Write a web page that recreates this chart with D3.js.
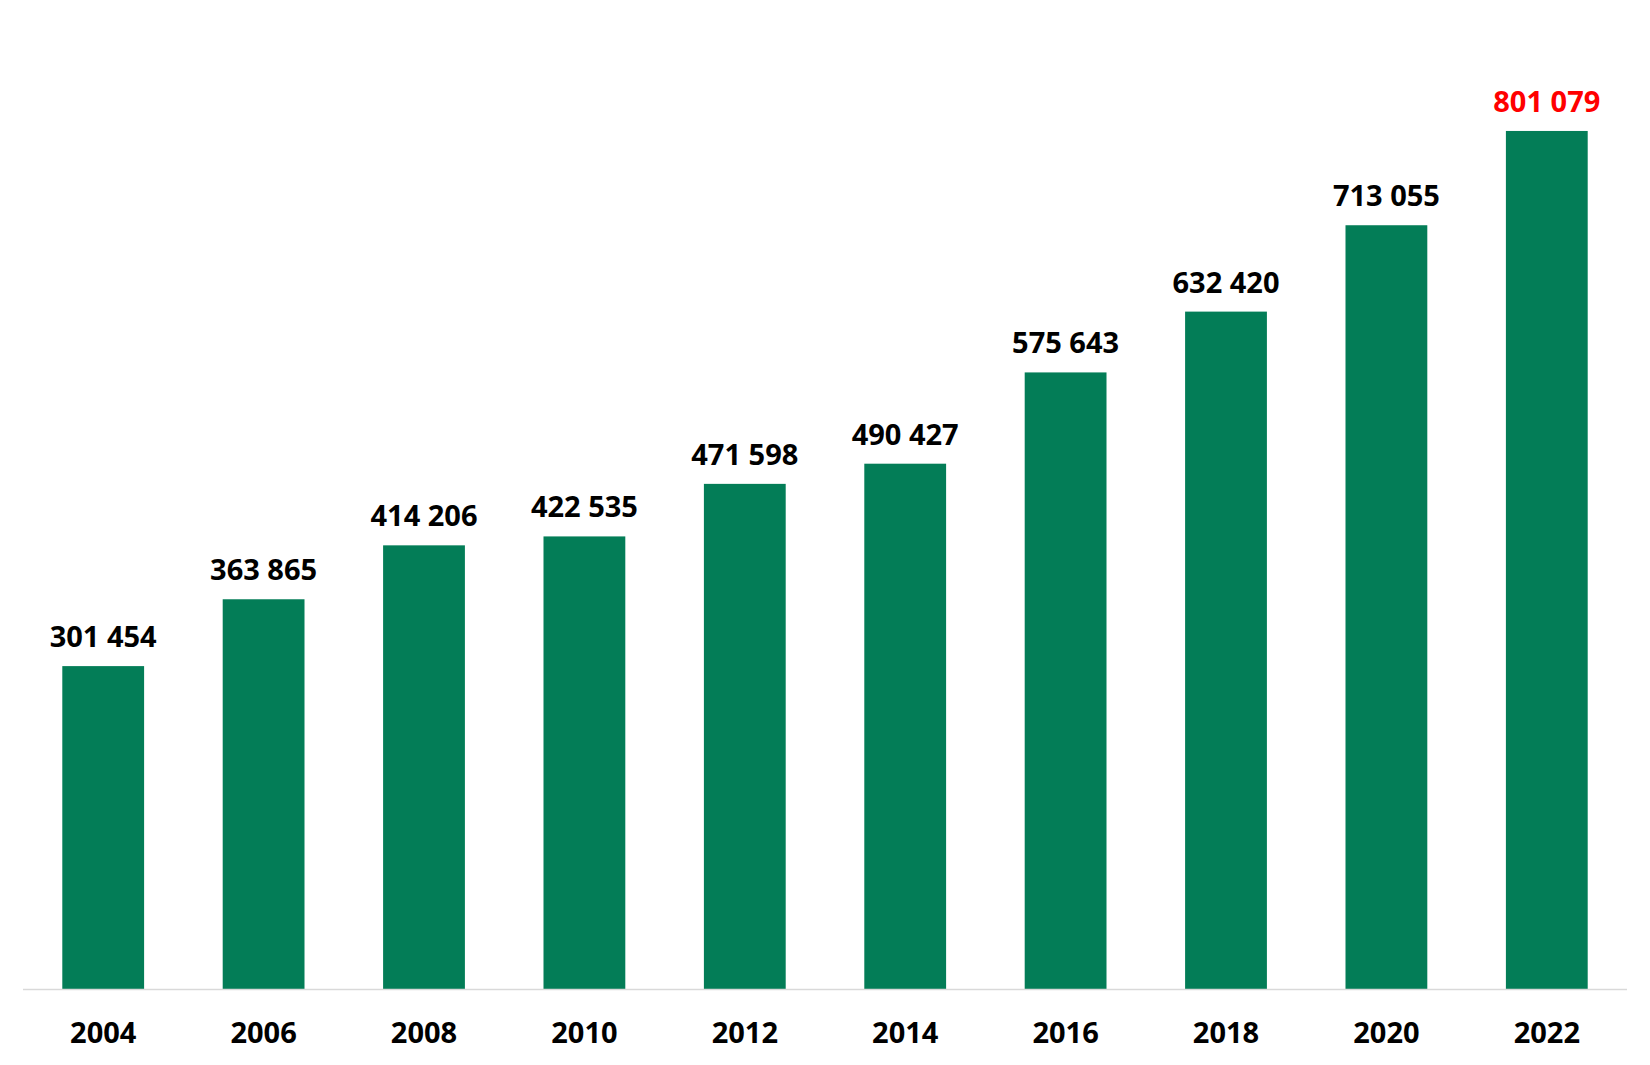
<!DOCTYPE html>
<html><head><meta charset="utf-8">
<script src="https://cdn.jsdelivr.net/npm/d3@7"></script>
<style>body{margin:0;background:#fff}svg{display:block}</style>
</head><body>
<svg id="c" width="1650" height="1065"></svg>
<script>
const years = ["2004","2006","2008","2010","2012","2014","2016","2018","2020","2022"];
const values = [301454,363865,414206,422535,471598,490427,575643,632420,713055,801079];
const labels = ["301 454","363 865","414 206","422 535","471 598","490 427","575 643","632 420","713 055","801 079"];

const svg = d3.select("#c");
const font = "'Open Sans', 'Noto Sans', sans-serif";
const x = d3.scaleBand().domain(years).range([23,1627]).paddingInner(0.49).paddingOuter(0.245);
const y = d3.scaleLinear().domain([0,900000]).range([989,25]);

svg.selectAll("rect.bar").data(values).join("rect")
  .attr("class","bar")
  .attr("x",(d,i)=>x(years[i]))
  .attr("width",x.bandwidth())
  .attr("y",d=>y(d))
  .attr("height",d=>y(0)-y(d))
  .attr("fill","#037D57");

svg.append("line").attr("x1",23).attr("x2",1627).attr("y1",989.5).attr("y2",989.5)
  .attr("stroke","#D9D9D9").attr("stroke-width",1.5);

svg.selectAll("text.val").data(values).join("text")
  .attr("class","val")
  .attr("x",(d,i)=>x(years[i])+x.bandwidth()/2)
  .attr("y",d=>y(d)-19)
  .attr("text-anchor","middle")
  .attr("font-family",font).attr("font-weight",700).attr("font-size",29)
  .attr("fill",(d,i)=>i===values.length-1?"#FF0000":"#000")
  .text((d,i)=>labels[i]);

const xAxis = d3.axisBottom(x).tickSize(0).tickPadding(0);
const g = svg.append("g").attr("transform","translate(0,1043)").call(xAxis);
g.select(".domain").remove();
g.selectAll("text").attr("dy",0).attr("y",0)
  .attr("font-family",font).attr("font-weight",700).attr("font-size",29).attr("fill","#000");
</script>
</body></html>
